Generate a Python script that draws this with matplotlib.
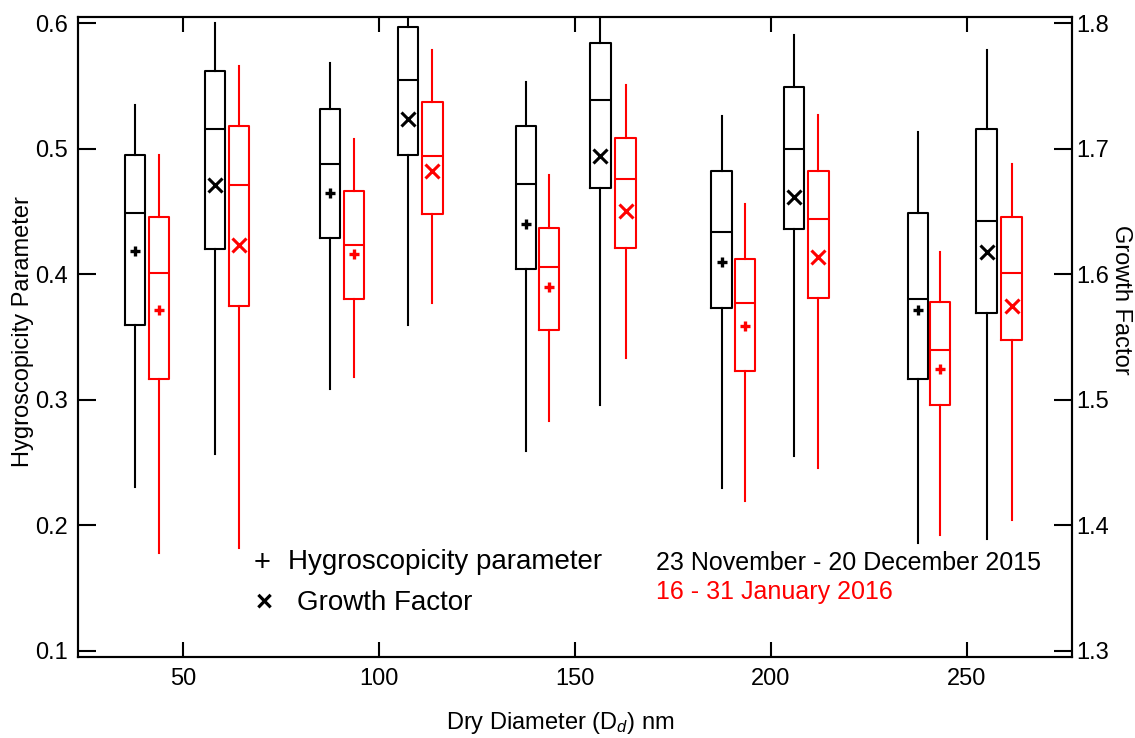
import numpy as np
import matplotlib
matplotlib.use('Agg')
import matplotlib.pyplot as plt

plt.rcParams['font.family'] = ['Liberation Sans', 'DejaVu Sans']
plt.rcParams['mathtext.fontset'] = 'custom'
plt.rcParams['mathtext.rm'] = 'Liberation Sans'
plt.rcParams['mathtext.it'] = 'Liberation Sans:italic'

# box positions (Dry diameter axis)
kappa_x_black = [37.7, 87.5, 137.5, 187.4, 237.5]
kappa_x_red = [43.9, 93.6, 143.4, 193.3, 243.1]
gf_x_black = [58.1, 107.4, 156.5, 205.8, 255.0]
gf_x_red = [64.3, 113.6, 162.9, 212.1, 261.4]

# each row: whisker low, Q1, median, Q3, whisker high, mean
kappa_black = [[0.231, 0.360, 0.449, 0.495, 0.535, 0.419],
               [0.309, 0.429, 0.488, 0.532, 0.568, 0.4645],
               [0.2595, 0.404, 0.472, 0.518, 0.553, 0.440],
               [0.230, 0.373, 0.4335, 0.482, 0.526, 0.4096],
               [0.1857, 0.317, 0.380, 0.4486, 0.513, 0.372]]
kappa_red = [[0.178, 0.317, 0.401, 0.446, 0.495, 0.372],
             [0.318, 0.380, 0.423, 0.466, 0.508, 0.416],
             [0.283, 0.356, 0.406, 0.437, 0.479, 0.390],
             [0.2196, 0.323, 0.377, 0.412, 0.456, 0.359],
             [0.192, 0.296, 0.340, 0.378, 0.4175, 0.325]]
gf_black = [[1.457, 1.620, 1.716, 1.762, 1.800, 1.671],
            [1.560, 1.695, 1.755, 1.797, 1.810, 1.7235],
            [1.496, 1.669, 1.739, 1.7845, 1.810, 1.6945],
            [1.455, 1.636, 1.700, 1.7495, 1.791, 1.662],
            [1.389, 1.569, 1.6427, 1.7155, 1.779, 1.618]]
gf_red = [[1.382, 1.575, 1.671, 1.718, 1.766, 1.623],
          [1.577, 1.648, 1.694, 1.7375, 1.779, 1.682],
          [1.533, 1.621, 1.676, 1.709, 1.751, 1.6504],
          [1.446, 1.581, 1.644, 1.682, 1.727, 1.614],
          [1.404, 1.548, 1.601, 1.646, 1.688, 1.575]]

x_ticks = [50, 100, 150, 200, 250]
kappa_ticks = [0.1, 0.2, 0.3, 0.4, 0.5, 0.6]
gf_ticks = [1.3, 1.4, 1.5, 1.6, 1.7, 1.8]


def to_stats(rows):
    out = []
    for r in rows:
        out.append(dict(whislo=r[0], q1=r[1], med=r[2], q3=r[3], whishi=r[4],
                        mean=r[5], fliers=[]))
    return out


def draw_boxes(ax, rows, pos, color, marker, ms, mew):
    lw = 1.5
    ax.bxp(to_stats(rows), positions=pos, widths=5.2, showcaps=False,
           showmeans=True, showfliers=False, manage_ticks=False,
           boxprops=dict(color=color, linewidth=lw),
           whiskerprops=dict(color=color, linewidth=lw),
           medianprops=dict(color=color, linewidth=lw),
           meanprops=dict(marker=marker, markersize=ms, markeredgewidth=mew,
                          markeredgecolor=color, markerfacecolor=color))


fig = plt.figure(figsize=(11.35, 7.38), dpi=100)
ax = fig.add_axes([78/1135, 1-657/738, 994/1135, 640/738])
ax2 = ax.twinx()

draw_boxes(ax, kappa_black, kappa_x_black, 'black', '+', 7, 2.4)
draw_boxes(ax, kappa_red, kappa_x_red, 'red', '+', 7, 2.4)
draw_boxes(ax2, gf_black, gf_x_black, 'black', 'x', 10, 2.2)
draw_boxes(ax2, gf_red, gf_x_red, 'red', 'x', 10, 2.2)

ax.set_xlim(23.2, 276.8)
ax.set_ylim(0.0952, 0.605)
ax2.set_ylim(1.2952, 1.805)
ax.set_xticks(x_ticks)
ax.set_yticks(kappa_ticks)
ax2.set_yticks(gf_ticks)
ax.set_xticklabels([str(v) for v in x_ticks])
ax.set_yticklabels(['%.1f' % v for v in kappa_ticks])
ax2.set_yticklabels(['%.1f' % v for v in gf_ticks])

ax.tick_params(axis='x', direction='in', length=11, width=1.5, top=True,
               labelsize=17, pad=8)
ax.tick_params(axis='y', direction='in', length=13, width=1.5, labelsize=17, pad=7)
ax2.tick_params(axis='y', direction='in', length=13, width=1.5, labelsize=17, pad=3)
for a in (ax, ax2):
    for s in a.spines.values():
        s.set_linewidth(1.5)

ax.set_xlabel('Dry Diameter (D$_{\\mathit{d}}$) nm', fontsize=17)
ax.xaxis.set_label_coords((560-78)/994, (657-710)/640)
ax.set_ylabel('Hygroscopicity Parameter', fontsize=17)
ax.yaxis.set_label_coords((23-78)/994, (657-332)/640)
ax.yaxis.label.set_va('center')
ax2.set_ylabel('Growth Factor', fontsize=17, rotation=270, va='center')
ax2.yaxis.set_label_coords((1121-78)/994, (657-300)/640)

# legend-like annotations
ax.text(0.185, 0.147, '+', transform=ax.transAxes, fontsize=21,
        ha='center', va='center')
ax.text(0.211, 0.148, 'Hygroscopicity parameter', transform=ax.transAxes,
        fontsize=20, ha='left', va='center')
ax.text(0.187, 0.085, '\u00d7', transform=ax.transAxes, fontsize=21,
        ha='center', va='center', fontweight='bold')
ax.text(0.220, 0.085, 'Growth Factor', transform=ax.transAxes,
        fontsize=20, ha='left', va='center')
ax.text(0.5815, 0.147, '23 November - 20 December 2015', transform=ax.transAxes,
        fontsize=18, ha='left', va='center', color='black')
ax.text(0.5815, 0.102, '16 - 31 January 2016', transform=ax.transAxes,
        fontsize=18, ha='left', va='center', color='red')

fig.savefig('out.png', dpi=100)
